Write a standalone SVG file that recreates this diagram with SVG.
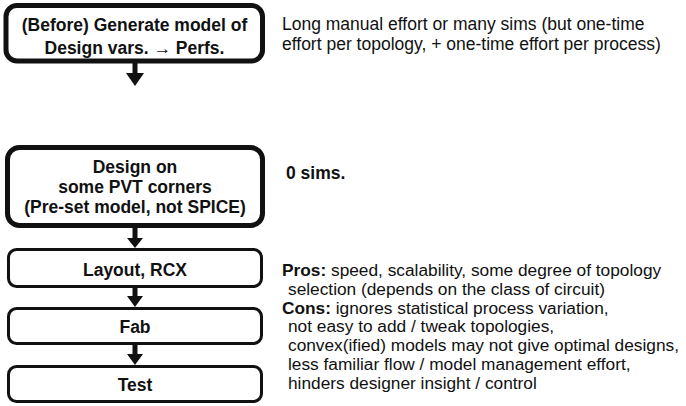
<svg xmlns="http://www.w3.org/2000/svg" width="686" height="406" viewBox="0 0 686 406">
<style>
.box{fill:#fff;stroke:#111;}
.thick{stroke-width:5;}
.thin{stroke-width:3;}
.bt{font-family:"Liberation Sans",Arial,sans-serif;font-weight:bold;font-size:17.5px;fill:#111;text-anchor:middle;}
.rt{font-family:"Liberation Sans",Arial,sans-serif;font-size:17.5px;fill:#111;}
.ps{font-size:17.3px;}
.rb{font-weight:bold;}
.stem{stroke:#111;stroke-width:5;}
.head{fill:#111;}
</style>
<rect width="686" height="406" fill="#fff"/>
<g id="connectors">
<line class="stem" x1="135" y1="63" x2="135" y2="75"/><polygon class="head" points="126,73 144,73 135,86"/>
<line class="stem" x1="135" y1="228" x2="135" y2="240"/><polygon class="head" points="127,238 143,238 135,248"/>
<line class="stem" x1="135" y1="288" x2="135" y2="298"/><polygon class="head" points="127,296 143,296 135,307"/>
<line class="stem" x1="135" y1="345" x2="135" y2="355"/><polygon class="head" points="127,354 143,354 135,365"/>
</g>
<g id="node-model">
<rect class="box thick" x="6" y="5.5" width="256.5" height="55.5" rx="11"/>
<text class="bt" x="134.5" y="31">(Before) Generate model of</text>
<text class="bt" x="134.5" y="54">Design vars. → Perfs.</text>
</g>
<g id="node-design">
<rect class="box thick" x="7.5" y="147.5" width="255" height="78" rx="12"/>
<text class="bt" x="135" y="173">Design on</text>
<text class="bt" x="135" y="193">some PVT corners</text>
<text class="bt" x="135" y="213">(Pre-set model, not SPICE)</text>
</g>
<g id="node-layout">
<rect class="box thin" x="8.5" y="249.5" width="253" height="37" rx="8"/>
<text class="bt" x="135" y="276">Layout, RCX</text>
</g>
<g id="node-fab">
<rect class="box thin" x="8.5" y="308.5" width="253" height="35" rx="8"/>
<text class="bt" x="135" y="333">Fab</text>
</g>
<g id="node-test">
<rect class="box thin" x="8.5" y="366.5" width="253" height="35" rx="8"/>
<text class="bt" x="135" y="391">Test</text>
</g>
<g id="notes">
<text class="rt" x="282" y="29.5">Long manual effort or many sims (but one-time</text>
<text class="rt" x="282" y="50">effort per topology, + one-time effort per process)</text>
<text class="rt rb" x="286" y="179">0 sims.</text>
<text class="rt ps" x="282" y="276"><tspan class="rb">Pros:</tspan> speed, scalability, some degree of topology</text>
<text class="rt ps" x="288" y="294.8">selection (depends on the class of circuit)</text>
<text class="rt ps" x="282" y="313.6"><tspan class="rb">Cons:</tspan> ignores statistical process variation,</text>
<text class="rt ps" x="288" y="332.4">not easy to add / tweak topologies,</text>
<text class="rt ps" x="288" y="351.2">convex(ified) models may not give optimal designs,</text>
<text class="rt ps" x="288" y="370">less familiar flow / model management effort,</text>
<text class="rt ps" x="288" y="388.8">hinders designer insight / control</text>
</g>
</svg>
